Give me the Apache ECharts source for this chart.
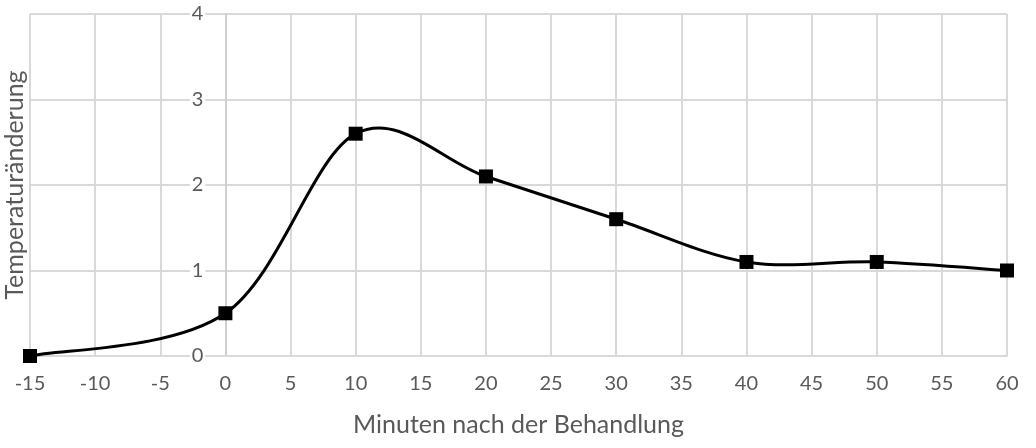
<!DOCTYPE html>
<html><head><meta charset="utf-8">
<script src="https://cdn.jsdelivr.net/npm/echarts@6/dist/echarts.min.js"></script>
<style>html,body{margin:0;padding:0;background:#fff}#c{width:1036px;height:448px}</style>
</head><body><div id="c"></div>
<script>
const minutes = [-15, 0, 10, 20, 30, 40, 50, 60];
const tempChange = [0, 0.5, 2.6, 2.1, 1.6, 1.1, 1.1, 1.0];
const xTitle = 'Minuten nach der Behandlung';
const yTitle = 'Temperaturänderung';

const W = 1036, gridLeft = 30, gridRight = 29;
const xMin = -15, xMax = 60;
// y axis crosses the x axis at x = 0
const yAxisOffset = -((0 - xMin) / (xMax - xMin)) * (W - gridLeft - gridRight);

const chart = echarts.init(document.getElementById('c'));
const font = 'Lato';
const grey = '#595959';

// Excel-like smoothed curve (Catmull-Rom -> cubic Bezier) through the data points
function renderSegment(params, api) {
  const i = params.dataIndex;
  if (i >= minutes.length - 1) return null;
  const P = k => {
    const kk = Math.max(0, Math.min(minutes.length - 1, k));
    return api.coord([minutes[kk], tempChange[kk]]);
  };
  const p0 = P(i - 1), p1 = P(i), p2 = P(i + 1), p3 = P(i + 2);
  const c1 = [p1[0] + (p2[0] - p0[0]) / 6, p1[1] + (p2[1] - p0[1]) / 6];
  const c2 = [p2[0] - (p3[0] - p1[0]) / 6, p2[1] - (p3[1] - p1[1]) / 6];
  return {
    type: 'bezierCurve',
    shape: {x1: p1[0], y1: p1[1], cpx1: c1[0], cpy1: c1[1], cpx2: c2[0], cpy2: c2[1], x2: p2[0], y2: p2[1]},
    style: {fill: null, stroke: '#000', lineWidth: 3}
  };
}

chart.setOption({
  animation: false,
  grid: {left: gridLeft, right: gridRight, top: 14, bottom: 92, containLabel: false, outerBoundsMode: 'none'},
  xAxis: {
    type: 'value', min: xMin, max: xMax, interval: 5,
    name: xTitle, nameLocation: 'middle', nameGap: 56,
    nameTextStyle: {fontFamily: font, fontSize: 25, color: grey},
    axisLine: {show: true, onZero: false, lineStyle: {color: '#d9d9d9', width: 2}},
    axisTick: {show: false},
    axisLabel: {fontFamily: font, fontSize: 20, color: grey, margin: 18},
    splitLine: {show: true, lineStyle: {color: '#d9d9d9', width: 2}}
  },
  yAxis: [{
    type: 'value', min: 0, max: 4, interval: 1, position: 'left', offset: yAxisOffset,
    axisLine: {show: true, onZero: false, lineStyle: {color: '#cfcfcf', width: 2}},
    axisTick: {show: false},
    axisLabel: {fontFamily: font, fontSize: 20, color: grey, margin: 20,
      backgroundColor: '#fff', padding: [0, 2]},
    splitLine: {show: true, lineStyle: {color: '#d9d9d9', width: 2}}
  }, {
    type: 'value', min: 0, max: 4, interval: 1, position: 'left',
    name: yTitle, nameLocation: 'middle', nameGap: 3, nameRotate: 90,
    nameTextStyle: {fontFamily: font, fontSize: 25, color: grey},
    axisLine: {show: false}, axisTick: {show: false}, axisLabel: {show: false},
    splitLine: {show: false}
  }],
  series: [{
    type: 'custom',
    renderItem: renderSegment,
    data: minutes.map((m, i) => [m, tempChange[i]]),
    z: 2
  }, {
    type: 'scatter',
    data: minutes.map((m, i) => [m, tempChange[i]]),
    symbol: 'rect', symbolSize: 14,
    itemStyle: {color: '#000', opacity: 1},
    z: 3
  }]
});
</script></body></html>
